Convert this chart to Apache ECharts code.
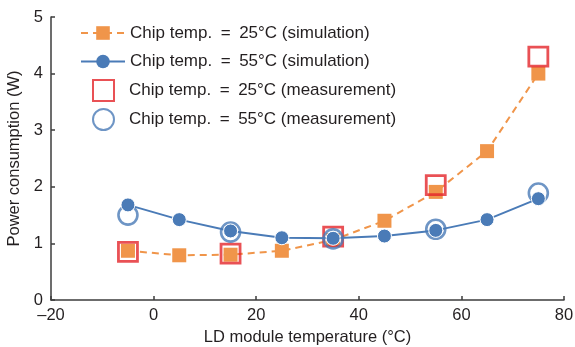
<!DOCTYPE html>
<html>
<head>
<meta charset="utf-8">
<script src="https://cdn.jsdelivr.net/npm/echarts@6/dist/echarts.min.js"></script>
<style>html,body{margin:0;padding:0;background:#fff;}#c{width:575px;height:347px;}</style>
</head>
<body>
<div id="c"></div>
<script>
const simTemps = [-5, 5, 15, 25, 35, 45, 55, 65, 75];
const sim25 = [0.87, 0.79, 0.80, 0.87, 1.06, 1.40, 1.91, 2.63, 4.00];
const sim55 = [1.68, 1.42, 1.22, 1.10, 1.09, 1.13, 1.23, 1.42, 1.79];
const measTemps = [-5, 15, 35, 55, 75];
const meas25 = [0.85, 0.82, 1.12, 2.03, 4.30];
const meas55 = [1.50, 1.20, 1.08, 1.25, 1.89];
const EQ = '\u2002=\u2002';
const names = ['Chip temp.' + EQ + '25°C (simulation)', 'Chip temp.' + EQ + '55°C (simulation)', 'Chip temp.' + EQ + '25°C (measurement)', 'Chip temp.' + EQ + '55°C (measurement)'];

const ORANGE = '#f0954a', BLUE = '#4a7bb7', RED = '#e3262a', AX = '#3c3c3c', TXT = '#231f20';
const pair = (xs, ys) => xs.map((x, i) => [x, ys[i]]);
const font = 'Liberation Sans, Arial, sans-serif';

const chart = echarts.init(document.getElementById('c'), null, {renderer: 'canvas'});
chart.setOption({
  animation: false,
  textStyle: {fontFamily: font},
  grid: {left: 51, right: 11, top: 17, bottom: 47, containLabel: false, outerBoundsMode: 'none'},
  legend: [{
    orient: 'vertical', left: 80, top: 24.5, padding: 0, itemWidth: 44, itemHeight: 17, itemGap: 11.5,
    textStyle: {fontSize: 17, color: TXT, fontFamily: font},
    data: [names[0], {name: names[1], itemStyle: {borderWidth: 0}}]
  }, {
    orient: 'vertical', left: 92, top: 79, padding: 0, itemWidth: 21, itemHeight: 21, itemGap: 6,
    textStyle: {fontSize: 17, color: TXT, fontFamily: font, padding: [0, 0, 0, 10]},
    data: [names[2], names[3]]
  }],
  xAxis: {
    type: 'value', min: -20, max: 80, interval: 20,
    name: 'LD module temperature (°C)', nameLocation: 'middle', nameGap: 29,
    nameTextStyle: {fontSize: 16.5, color: TXT},
    axisLine: {show: true, onZero: false, lineStyle: {color: AX, width: 1.5}},
    axisTick: {show: true, inside: true, length: 4, lineStyle: {color: AX, width: 1.5}},
    axisLabel: {fontSize: 16.5, color: TXT, margin: 7, formatter: v => String(v).replace('-', '–')},
    splitLine: {show: false}
  },
  yAxis: {
    type: 'value', min: 0, max: 5, interval: 1,
    name: 'Power consumption (W)', nameLocation: 'middle', nameGap: 26,
    nameTextStyle: {fontSize: 16.5, color: TXT},
    axisLine: {show: true, onZero: false, lineStyle: {color: AX, width: 1.5}},
    axisTick: {show: true, inside: true, length: 4, lineStyle: {color: AX, width: 1.5}},
    axisLabel: {fontSize: 16.5, color: TXT, margin: 8},
    splitLine: {show: false}
  },
  series: [
    {
      name: names[0], type: 'line', symbol: 'rect', symbolSize: 14, z: 2,
      lineStyle: {color: ORANGE, width: 2, type: [7, 5]},
      itemStyle: {color: ORANGE},
      data: pair(simTemps, sim25)
    },
    {
      name: names[2], type: 'scatter', symbol: 'rect', symbolSize: 19, z: 3,
      itemStyle: {color: 'rgba(255,255,255,0)', borderColor: RED, borderWidth: 2.8},
      data: pair(measTemps, meas25)
    },
    {
      name: names[3], type: 'scatter', symbol: 'circle', symbolSize: 19, z: 4,
      itemStyle: {color: 'rgba(255,255,255,0)', borderColor: BLUE, borderWidth: 2.6},
      data: pair(measTemps, meas55)
    },
    {
      name: names[1], type: 'line', symbol: 'circle', symbolSize: 14, z: 5,
      lineStyle: {color: BLUE, width: 2},
      itemStyle: {color: BLUE, borderColor: '#fff', borderWidth: 1},
      data: pair(simTemps, sim55)
    }
  ]
});
</script>
</body>
</html>
